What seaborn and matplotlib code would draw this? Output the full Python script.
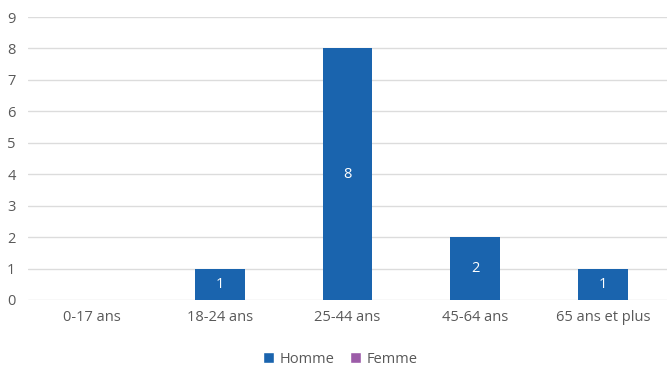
import matplotlib
matplotlib.use("Agg")
import matplotlib.pyplot as plt
import seaborn as sns
import pandas as pd
from matplotlib.patches import Patch

categories = ["0-17 ans", "18-24 ans", "25-44 ans", "45-64 ans", "65 ans et plus"]
homme = [0, 1, 8, 2, 1]
femme = [0, 0, 0, 0, 0]
series = ["Homme", "Femme"]
colors = {"Homme": "#1a64ae", "Femme": "#9c5ca8"}

df = pd.DataFrame({
    "cat": categories * 2,
    "val": homme + femme,
    "serie": ["Homme"] * len(categories) + ["Femme"] * len(categories),
})

sns.set_theme(style="white")
plt.rcParams["font.family"] = ["Open Sans", "DejaVu Sans"]

fig = plt.figure(figsize=(6.67, 3.74), dpi=100)
ax = fig.add_axes([0.042, 0.198, 0.958, 0.7565])

sns.barplot(data=df, x="cat", y="val", hue="serie", palette=colors,
            dodge=False, width=0.39, ax=ax, legend=False, saturation=1,
            edgecolor="none")

ax.set_ylim(0, 9)
ax.set_yticks(range(0, 10))
ax.yaxis.grid(True, color="#dcdcdc", linewidth=1)
ax.set_axisbelow(True)
for s in ax.spines.values():
    s.set_visible(False)
ax.set_xlabel("")
ax.set_ylabel("")
ax.tick_params(axis="both", length=0, labelsize=10.5, labelcolor="#595959")
ax.tick_params(axis="x", pad=7)
ax.tick_params(axis="y", pad=9)

for i, v in enumerate(homme):
    if v > 0:
        ax.text(i, v / 2, str(v), ha="center", va="center", color="white", fontsize=10.5)

handles = [Patch(facecolor=colors[s], label=s) for s in series]
fig.legend(handles=handles, loc="center", bbox_to_anchor=(0.51, 0.04), ncol=2,
           frameon=False, fontsize=10.5, handlelength=0.75, handleheight=0.75,
           handletextpad=0.35, columnspacing=1.1, labelcolor="#595959")

fig.savefig("out.png", dpi=100)
